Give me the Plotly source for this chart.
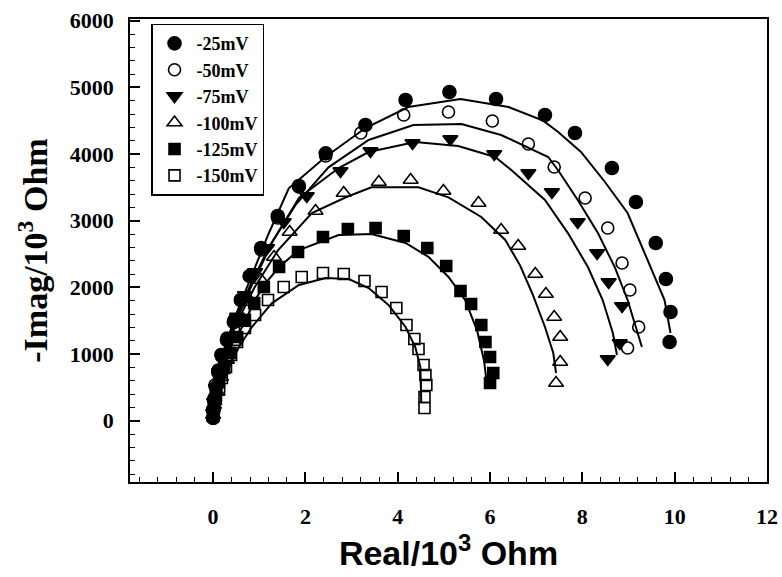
import plotly.graph_objects as go

# ---------------- data (Real / 10^3 Ohm, -Imag / 10^3 Ohm) ----------------
labels = ["-25mV", "-50mV", "-75mV", "-100mV", "-125mV", "-150mV"]
symbols = ["circle", "circle-open", "triangle-down", "triangle-up-open", "square", "square-open"]

re_25 = [0.0, 0.0, 0.02, 0.06, 0.11, 0.19, 0.30, 0.45, 0.60, 0.80, 1.04, 1.40, 1.86, 2.44, 3.30, 4.17, 5.12, 6.13, 7.19, 7.84, 8.64, 9.16, 9.59, 9.81, 9.91, 9.89]
im_25 = [40, 160, 310, 500, 730, 970, 1210, 1480, 1810, 2170, 2590, 3070, 3520, 4010, 4435, 4810, 4930, 4825, 4585, 4315, 3790, 3280, 2665, 2125, 1630, 1180]

re_50 = [0.0, 0.0, 0.02, 0.04, 0.11, 0.17, 0.30, 0.45, 0.60, 0.78, 1.04, 1.40, 1.86, 2.44, 3.20, 4.13, 5.10, 6.05, 6.83, 7.39, 8.06, 8.55, 8.86, 9.03, 9.22, 8.98]
im_50 = [40, 160, 340, 535, 760, 990, 1240, 1510, 1810, 2170, 2560, 3040, 3505, 3970, 4315, 4585, 4630, 4495, 4150, 3805, 3340, 2890, 2365, 1960, 1405, 1090]

re_75 = [0.0, 0.02, 0.06, 0.13, 0.24, 0.37, 0.52, 0.69, 0.91, 1.17, 1.53, 2.03, 2.76, 3.41, 4.32, 5.14, 6.09, 6.83, 7.34, 7.90, 8.32, 8.57, 8.86, 8.81, 8.55]
im_75 = [115, 280, 490, 730, 985, 1255, 1560, 1885, 2230, 2590, 2980, 3370, 3745, 4045, 4165, 4225, 4000, 3715, 3430, 2980, 2515, 2080, 1720, 1165, 925]

re_100 = [0.0, 0.02, 0.09, 0.17, 0.30, 0.45, 0.63, 0.82, 1.04, 1.32, 1.66, 2.22, 2.83, 3.59, 4.28, 4.99, 5.75, 6.24, 6.61, 6.98, 7.21, 7.39, 7.52, 7.52, 7.43]
im_100 = [85, 235, 430, 655, 910, 1180, 1465, 1780, 2110, 2455, 2830, 3145, 3415, 3580, 3610, 3445, 3265, 2860, 2620, 2200, 1900, 1555, 1255, 880, 565]

re_125 = [0.0, 0.02, 0.06, 0.13, 0.24, 0.37, 0.52, 0.69, 0.89, 1.10, 1.43, 1.84, 2.38, 2.92, 3.52, 4.13, 4.64, 5.05, 5.36, 5.59, 5.81, 5.90, 6.00, 6.07, 6.00]
im_125 = [85, 220, 385, 580, 790, 1015, 1255, 1510, 1765, 2005, 2305, 2530, 2755, 2875, 2890, 2770, 2590, 2320, 1945, 1750, 1435, 1180, 955, 715, 565]

re_150 = [0.0, 0.02, 0.06, 0.13, 0.19, 0.28, 0.39, 0.52, 0.69, 0.91, 1.19, 1.53, 1.92, 2.38, 2.83, 3.28, 3.65, 3.97, 4.19, 4.36, 4.45, 4.56, 4.60, 4.62, 4.58, 4.58]
im_150 = [70, 190, 325, 475, 640, 805, 985, 1180, 1390, 1585, 1810, 2005, 2155, 2215, 2200, 2095, 1930, 1690, 1435, 1225, 1075, 835, 685, 535, 355, 190]

# fitted curves
fit_re_25 = [0.0, 0.02, 0.10, 0.25, 0.50, 0.85, 1.20, 1.64, 2.44, 3.30, 4.23, 5.36, 6.40, 7.15, 7.47, 7.97, 8.49, 8.98, 9.16, 9.48, 9.78, 9.91]
fit_im_25 = [0, 300, 650, 1100, 1600, 2200, 2800, 3485, 3960, 4390, 4705, 4825, 4705, 4500, 4335, 4030, 3580, 3115, 2815, 2305, 1810, 1315]

fit_re_50 = [0.0, 0.02, 0.10, 0.25, 0.50, 0.85, 1.25, 1.80, 2.50, 3.37, 4.34, 5.38, 6.24, 7.26, 7.47, 7.90, 8.34, 8.70, 8.98, 9.16, 9.29]
fit_im_50 = [0, 280, 620, 1050, 1550, 2100, 2650, 3250, 3800, 4210, 4435, 4450, 4285, 3955, 3760, 3310, 2810, 2305, 1810, 1405, 1105]

fit_re_75 = [0.0, 0.02, 0.10, 0.25, 0.50, 0.85, 1.30, 1.86, 2.72, 3.37, 4.38, 5.31, 6.11, 6.46, 7.19, 7.69, 8.12, 8.44, 8.66, 8.75]
fit_im_75 = [0, 250, 580, 1000, 1500, 2050, 2700, 3340, 3790, 4030, 4180, 4120, 3955, 3760, 3310, 2810, 2305, 1810, 1315, 985]

fit_re_100 = [0.0, 0.05, 0.20, 0.50, 0.90, 1.40, 2.14, 2.89, 3.43, 4.45, 5.10, 5.81, 6.33, 6.65, 6.92, 7.19, 7.37, 7.43]
fit_im_100 = [0, 430, 900, 1450, 2000, 2550, 3115, 3355, 3500, 3500, 3350, 3055, 2710, 2330, 1900, 1405, 1015, 715]

fit_re_125 = [0.0, 0.05, 0.20, 0.40, 0.63, 0.90, 1.14, 1.43, 1.86, 2.45, 2.72, 3.43, 4.17, 4.67, 5.10, 5.46, 5.72, 5.87, 5.93]
fit_im_125 = [0, 400, 850, 1150, 1405, 1800, 2065, 2305, 2560, 2710, 2785, 2800, 2665, 2455, 2155, 1810, 1350, 900, 560]

fit_re_150 = [0.0, 0.02, 0.17, 0.35, 0.56, 0.84, 1.27, 1.86, 2.44, 2.94, 3.37, 3.80, 4.17, 4.38, 4.49, 4.51, 4.51]
fit_im_150 = [0, 115, 505, 805, 1105, 1405, 1760, 2035, 2140, 2125, 1990, 1735, 1405, 1105, 805, 505, 265]

x_ticks = [0, 2, 4, 6, 8, 10, 12]
y_ticks = [0, 1000, 2000, 3000, 4000, 5000, 6000]

points = [(re_25, im_25), (re_50, im_50), (re_75, im_75), (re_100, im_100), (re_125, im_125), (re_150, im_150)]
fits = [(fit_re_25, fit_im_25), (fit_re_50, fit_im_50), (fit_re_75, fit_im_75),
        (fit_re_100, fit_im_100), (fit_re_125, fit_im_125), (fit_re_150, fit_im_150)]
sizes = [13, 12, 13, 13, 11, 11]

fig = go.Figure()
for (fx, fy) in fits:
    fig.add_trace(go.Scatter(x=fx, y=fy, mode="lines", line=dict(color="black", width=2),
                             showlegend=False, hoverinfo="skip"))
for lab, sym, sz, (px, py) in zip(labels, symbols, sizes, points):
    fig.add_trace(go.Scatter(x=px, y=py, mode="markers", name=lab,
                             marker=dict(symbol=sym, size=sz, color="black",
                                         line=dict(color="black", width=1.6))))

tick_font = dict(family="Liberation Serif", size=22, color="black", weight="bold")
fig.update_layout(
    width=782, height=577,
    margin=dict(l=130, r=15, t=19, b=95),
    paper_bgcolor="white", plot_bgcolor="white",
    showlegend=True,
    legend=dict(x=0.033, y=0.99, xanchor="left", yanchor="top",
                bgcolor="white", bordercolor="black", borderwidth=1.5,
                font=dict(family="Liberation Serif", size=18, color="black", weight="bold"),
                itemwidth=34, tracegroupgap=0),
)
fig.update_xaxes(
    range=[-1.8, 12.0], tickvals=x_ticks, ticktext=[str(v) for v in x_ticks],
    showgrid=False, zeroline=False, showline=True, linecolor="black", linewidth=1.5,
    mirror=True, ticks="inside", ticklen=10, tickwidth=1.5, tickcolor="black",
    minor=dict(dtick=0.4, tick0=0, ticks="inside", ticklen=5, tickwidth=1, tickcolor="black"),
    tickfont=tick_font, ticklabelstandoff=14,
    title=dict(text="<b>Real/10<sup>3</sup> Ohm</b>",
               font=dict(family="Liberation Sans", size=34, color="black"), standoff=0),
    automargin=False,
)
fig.update_yaxes(
    range=[-920, 6025], tickvals=y_ticks, ticktext=[str(v) for v in y_ticks],
    showgrid=False, zeroline=False, showline=True, linecolor="black", linewidth=1.5,
    mirror=True, ticks="inside", ticklen=10, tickwidth=1.5, tickcolor="black",
    minor=dict(dtick=200, tick0=0, ticks="inside", ticklen=5, tickwidth=1, tickcolor="black"),
    tickfont=tick_font, ticklabelstandoff=10,
    title=dict(text="<b>-Imag/10<sup>3</sup> Ohm</b>",
               font=dict(family="Liberation Serif", size=34, color="black"), standoff=12),
    automargin=False,
)

fig.write_html("out.html")
